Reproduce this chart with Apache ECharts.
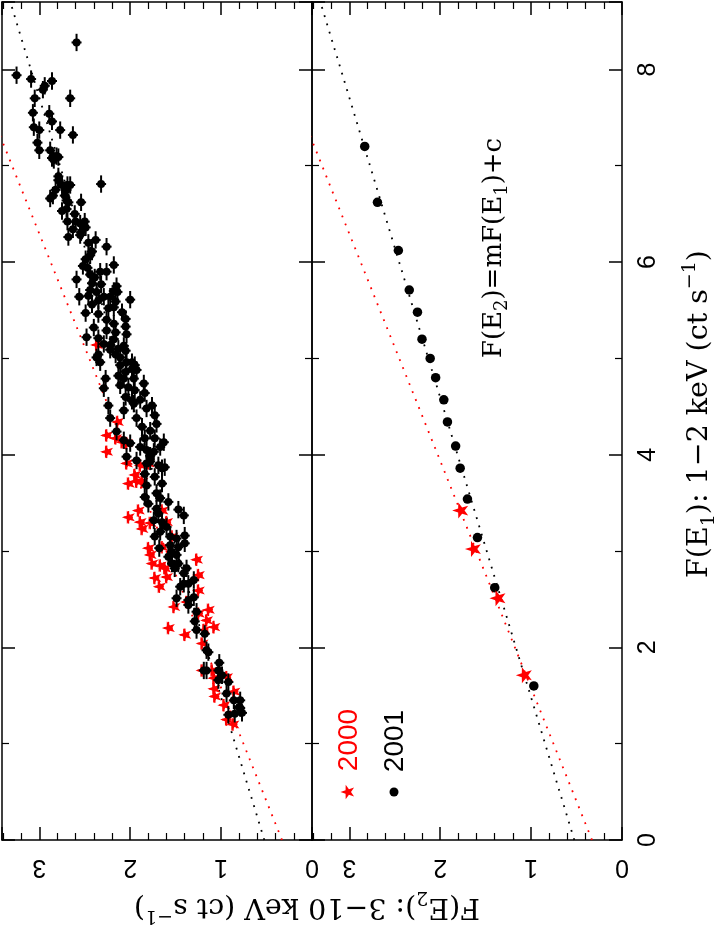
<!DOCTYPE html>
<html><head><meta charset="utf-8">
<script src="https://cdn.jsdelivr.net/npm/echarts@6/dist/echarts.min.js"></script>
<style>html,body{margin:0;padding:0;background:#fff}#c{width:720px;height:929px}</style>
</head><body><div id="c"></div>
<script>
// ---- data: each point is [F(E2), F(E1)] in ct/s ----
const F2_MAX = 3.41;
const F1_MAX = 8.7;
const xTickInterval = 1;   // F(E2) labels 0,1,2,3
const yTickInterval = 2;   // F(E1) labels 0,2,4,6,8

// upper (left) panel: individual observations, 2001
const obs2001 = [[2.59,8.28],[3.25,7.94],[3.09,7.90],[2.86,7.88],[2.94,7.83],[2.96,7.79],[3.05,7.70],[2.66,7.70],[3.07,7.55],[2.89,7.54],[2.86,7.46],[3.06,7.40],[3.00,7.37],[2.77,7.37],[2.63,7.32],[3.02,7.24],[3.00,7.16],[2.88,7.16],[2.86,7.08],[2.81,7.10],[2.79,7.09],[2.84,7.06],[2.79,6.89],[2.79,6.85],[2.75,6.80],[2.69,6.80],[2.66,6.80],[2.32,6.81],[2.82,6.75],[2.70,6.75],[2.88,6.66],[2.85,6.69],[2.72,6.69],[2.70,6.64],[2.68,6.62],[2.54,6.62],[2.75,6.53],[2.70,6.55],[2.61,6.50],[2.69,6.42],[2.60,6.42],[2.50,6.42],[2.55,6.40],[2.49,6.36],[2.63,6.34],[2.54,6.31],[2.68,6.26],[2.55,6.28],[2.38,6.23],
[2.46,6.20],[2.26,6.16],[2.42,6.11],[2.44,6.07],[2.49,6.03],[2.18,5.97],[2.52,5.96],[2.47,5.94],[2.33,5.90],[2.26,5.90],[2.44,5.87],[2.39,5.84],[2.59,5.82],[2.42,5.78],[2.32,5.77],[2.15,5.75],[2.44,5.71],[2.37,5.69],[2.18,5.70],[2.14,5.69],[2.56,5.64],[2.46,5.65],[2.29,5.64],[2.22,5.64],[2.00,5.61],[2.35,5.60],[2.16,5.59],[2.42,5.56],[2.24,5.52],[2.18,5.53],[2.49,5.47],[2.35,5.46],[2.09,5.48],[2.05,5.41],[2.26,5.40],[2.18,5.36],[2.40,5.32],[2.05,5.33],[2.26,5.29],[2.16,5.27],[2.04,5.25],[2.48,5.22],[2.35,5.21],[2.18,5.20],[2.29,5.15],[2.22,5.14],[2.07,5.13],[2.13,5.10],[2.05,5.08],[2.35,5.04],[2.22,5.09],[2.16,5.04],[2.37,5.01],[2.11,5.01],[1.98,4.96],[2.04,4.96],[1.95,4.93],[2.33,4.96],[2.11,4.93],[1.98,4.89],[1.93,4.88],[2.05,4.86],[2.13,4.82],[2.27,4.79],[2.07,4.79],[1.96,4.79],[1.85,4.74],[2.11,4.72],[2.29,4.69],[2.02,4.70],[1.95,4.67],[1.84,4.64],[2.05,4.60],[1.98,4.56],[1.89,4.57],[2.24,4.51],[1.76,4.51],[1.96,4.53],[2.07,4.46],[1.82,4.48],[1.73,4.41],[2.22,4.38],[1.93,4.38],[1.87,4.29],[1.71,4.32],[1.78,4.25],[2.15,4.24],[2.07,4.15],[2.00,4.12],[1.84,4.17],[1.73,4.17],[1.63,4.13],[1.89,4.08],[1.82,4.05],[1.74,4.03],[1.67,4.08],[1.93,3.94],[1.78,3.93],[1.69,3.89],[1.62,3.87],
[1.78,3.99],[2.04,3.98],[1.82,3.91],[1.65,3.86],[1.84,3.80],[1.73,3.77],[1.65,3.70],[1.82,3.68],[1.71,3.60],[1.84,3.56],[1.67,3.55],[1.58,3.51],[1.80,3.49],[1.71,3.44],[1.47,3.43],[1.41,3.37],[1.69,3.39],[1.74,3.32],[1.65,3.30],[1.60,3.25],[1.67,3.20],[1.73,3.15],[1.56,3.15],[1.49,3.13],[1.40,3.16],[1.40,3.08],[1.56,3.06],[1.47,3.04],[1.68,3.03],[1.54,2.99],[1.58,2.94],[1.49,2.96],[1.54,2.87],[1.47,2.87],[1.51,2.82],[1.38,2.82],[1.41,2.77],[1.45,2.63],[1.41,2.66],[1.36,2.66],[1.30,2.70],[1.49,2.51],[1.36,2.44],[1.30,2.52],[1.36,2.49],[1.27,2.37],[1.29,2.27],[1.27,2.18],[1.18,2.14],[1.16,1.97],[1.14,1.95],[1.02,1.84],[1.19,1.76],[1.16,1.76],[1.03,1.76],[0.99,1.71],[1.03,1.66],[0.92,1.64],[0.94,1.52],[0.86,1.45],[0.79,1.45],[0.92,1.30],[0.85,1.31],[0.79,1.37],[0.77,1.32],[0.80,1.38]];

// upper (left) panel: individual observations, 2000
const obs2000 = [[2.37,5.14],[2.14,4.34],[2.26,4.20],[2.16,4.17],[2.09,4.13],[2.04,4.12],[2.26,4.03],[2.04,3.91],[1.89,3.89],[1.80,3.91],[1.95,3.79],[2.02,3.70],[1.93,3.72],[1.87,3.72],[1.91,3.42],[2.02,3.35],[1.89,3.30],[1.87,3.23],[1.78,3.29],[1.65,3.42],[1.60,3.30],[1.80,3.03],[1.78,2.96],[1.65,3.04],[1.54,3.15],[1.76,2.87],[1.67,2.85],[1.62,2.82],[1.60,2.73],[1.73,2.72],[1.68,2.63],[1.27,2.91],[1.25,2.75],[1.25,2.59],[1.52,2.42],[1.38,2.47],[1.25,2.35],[1.14,2.39],[1.16,2.28],[1.08,2.21],[1.58,2.20],[1.40,2.13],[1.19,2.18],[1.21,2.04],[1.21,1.76],[1.10,1.76],[1.08,1.68],[1.08,1.57],[1.07,1.49],[0.94,1.69],[0.97,1.40],[0.86,1.54],[0.94,1.25],[0.87,1.20]];

// error half-widths of individual observations
const err2001 = {f2: 0.055, f1: 0.09};
const err2000 = {f2: 0.05, f1: 0.065};

// lower (right) panel: flux-binned values
const binned2001 = [[2.83,7.20],[2.69,6.62],[2.46,6.12],[2.34,5.71],[2.25,5.48],[2.20,5.20],[2.11,5.00],[2.05,4.80],[1.96,4.57],[1.92,4.34],[1.83,4.09],[1.78,3.86],[1.70,3.54],[1.59,3.14],[1.40,2.62],[0.97,1.60]];
const binned2000 = [[1.78,3.42],[1.64,3.02],[1.37,2.51],[1.08,1.71]];

// linear fits F(E2)=mF(E1)+c, endpoints
const fit2001 = [[0.525,0],[3.318,8.7]];
const fit2000 = [[0.33,0],[4.02,8.7]];

// ---- chart ----
const STAR = 'path://M-10,0 L-3.24,-2.35 L-3.09,-9.51 L1.24,-3.80 L8.09,-5.88 L4,0 L8.09,5.88 L1.24,3.80 L-3.09,9.51 L-3.24,2.35 Z';
const RED = '#ff0000';
const FONT_SANS = 'Liberation Sans, Arial, sans-serif';
const FONT_SERIF = 'DejaVu Serif, serif';

function xAx(grid, pos, showLabel) {
  return {type:'value', gridIndex:grid, position:pos, inverse:true, min:0, max:F2_MAX, interval:xTickInterval,
    axisLine:{show:true, onZero:false, lineStyle:{color:'#000', width:1.5}},
    axisTick:{show:true, inside:true, length:13, lineStyle:{color:'#000', width:1.5}},
    minorTick:{show:true, splitNumber:5, length:7, lineStyle:{color:'#000', width:1.2}},
    splitLine:{show:false}, minorSplitLine:{show:false},
    axisLabel:{show:showLabel, rotate:180, margin:14, fontSize:25, fontFamily:FONT_SANS, color:'#000', showMaxLabel:false, showMinLabel:true}
  };
}
function yAx(grid, pos, showLabel) {
  return {type:'value', gridIndex:grid, position:pos, min:0, max:F1_MAX, interval:yTickInterval,
    axisLine:{show:true, onZero:false, lineStyle:{color:'#000', width:1.5}},
    axisTick:{show:true, inside:true, length:13, lineStyle:{color:'#000', width:1.5}},
    minorTick:{show:true, splitNumber:2, length:7, lineStyle:{color:'#000', width:1.2}},
    splitLine:{show:false}, minorSplitLine:{show:false},
    axisLabel:{show:showLabel, rotate:90, margin:14, fontSize:25, fontFamily:FONT_SANS, color:'#000', showMaxLabel:false, showMinLabel:true}
  };
}

function errBars(err, color, width) {
  return function (params, api) {
    const x = api.value(0), y = api.value(1);
    const a = api.coord([x - err.f2, y]), b = api.coord([x + err.f2, y]);
    const c = api.coord([x, y - err.f1]), d = api.coord([x, y + err.f1]);
    const st = {stroke: color, lineWidth: width};
    return {type:'group', children:[
      {type:'line', shape:{x1:a[0], y1:a[1], x2:b[0], y2:b[1]}, style:st},
      {type:'line', shape:{x1:c[0], y1:c[1], x2:d[0], y2:d[1]}, style:st}
    ]};
  };
}

function fitLine(data, color, xi, yi) {
  return {type:'line', xAxisIndex:xi, yAxisIndex:yi, data:data, symbol:'none', clip:true, silent:true, z:1,
    lineStyle:{color:color, width:1.8, type:[1.8, 6.8], cap:'butt', opacity:1}};
}

const series = [
  fitLine(fit2001, '#000', 0, 0),
  fitLine(fit2000, RED, 0, 0),
  fitLine(fit2001, '#000', 2, 2),
  fitLine(fit2000, RED, 2, 2),
  {type:'custom', xAxisIndex:0, yAxisIndex:0, data:obs2000, renderItem:errBars(err2000, RED, 1.6), z:2, encode:{x:0,y:1}},
  {type:'scatter', xAxisIndex:0, yAxisIndex:0, data:obs2000, symbol:STAR, symbolSize:13, itemStyle:{color:RED, opacity:1}, z:3},
  {type:'custom', xAxisIndex:0, yAxisIndex:0, data:obs2001, renderItem:errBars(err2001, '#000', 2), z:4, encode:{x:0,y:1}},
  {type:'scatter', xAxisIndex:0, yAxisIndex:0, data:obs2001, symbol:'circle', symbolSize:8, itemStyle:{color:'#000', opacity:1}, z:5},
  {type:'scatter', xAxisIndex:2, yAxisIndex:2, data:binned2001, symbol:'circle', symbolSize:9.5, itemStyle:{color:'#000', opacity:1}, z:5},
  {type:'scatter', xAxisIndex:2, yAxisIndex:2, data:binned2000, symbol:STAR, symbolSize:16, itemStyle:{color:RED, opacity:1}, z:6}
];

function starPoints(cx, cy, r) {
  const pts = [];
  for (let i = 0; i < 10; i++) {
    const ang = Math.PI + i * Math.PI / 5;
    const rr = i % 2 === 0 ? r : r * 0.4;
    pts.push([cx + rr * Math.cos(ang), cy + rr * Math.sin(ang)]);
  }
  return pts;
}

const subS = {fontSize:19, fontFamily:FONT_SERIF, verticalAlign:'bottom', lineHeight:16};
const supS = {fontSize:19, fontFamily:FONT_SERIF, verticalAlign:'top', lineHeight:16};
const mainS = {fontSize:28.5, fontFamily:FONT_SERIF, lineHeight:38};

const chart = echarts.init(document.getElementById('c'), null, {renderer:'canvas'});
chart.setOption({
  backgroundColor:'#fff',
  animation:false,
  grid:[
    {left:2, top:2, width:310, height:838},
    {left:312, top:2, width:310, height:838}
  ],
  xAxis:[xAx(0,'bottom',true), xAx(0,'top',false), xAx(1,'bottom',true), xAx(1,'top',false)],
  yAxis:[yAx(0,'left',false), yAx(0,'right',false), yAx(1,'left',false), yAx(1,'right',true)],
  series: series,
  graphic:[
    {type:'text', x:307, y:906, rotation:Math.PI, style:{
      text:'{m|F(E}{s|2}{m|): 3−10 keV (ct s}{p|−1}{m|)}', align:'center', verticalAlign:'middle',
      rich:{m:mainS, s:subS, p:supS}, fill:'#000'}},
    {type:'text', x:700, y:414, rotation:Math.PI/2, style:{
      text:'{m|F(E}{s|1}{m|): 1−2 keV (ct s}{p|−1}{m|)}', align:'center', verticalAlign:'middle',
      rich:{m:mainS, s:subS, p:supS}, fill:'#000'}},
    {type:'text', x:494, y:248, rotation:Math.PI/2, style:{
      text:'{m|F(E}{s|2}{m|)=mF(E}{s|1}{m|)+c}', align:'center', verticalAlign:'middle',
      rich:{m:{fontSize:26, fontFamily:FONT_SERIF, lineHeight:34}, s:{fontSize:18, fontFamily:FONT_SERIF, verticalAlign:'bottom', lineHeight:16}}, fill:'#000'}},
    {type:'text', x:349, y:740, rotation:Math.PI/2, style:{text:'2000', fontSize:28, fontFamily:FONT_SANS, fill:RED, align:'center', verticalAlign:'middle'}},
    {type:'text', x:395, y:741, rotation:Math.PI/2, style:{text:'2001', fontSize:28, fontFamily:FONT_SANS, fill:'#000', align:'center', verticalAlign:'middle'}},
    {type:'polygon', shape:{points:starPoints(348,792,7.5)}, style:{fill:RED}},
    {type:'circle', shape:{cx:394, cy:792, r:4.5}, style:{fill:'#000'}}
  ]
});
</script>
</body></html>
